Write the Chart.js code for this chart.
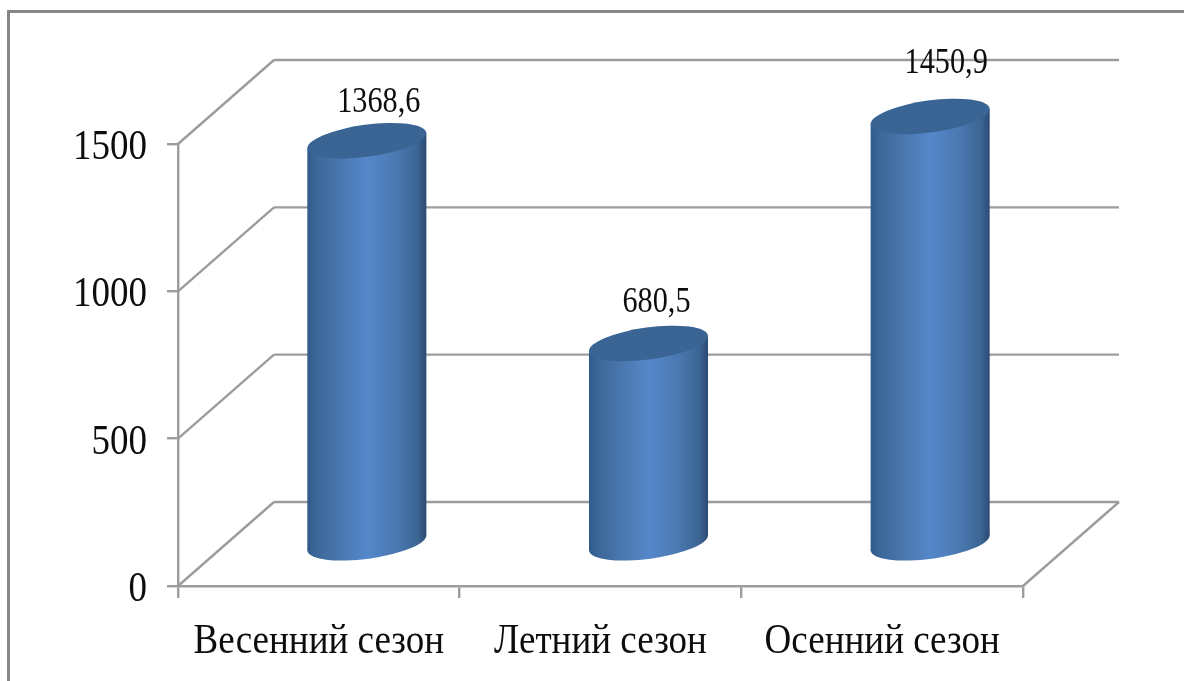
<!DOCTYPE html>
<html lang="ru">
<head>
<meta charset="utf-8">
<title>Сезоны</title>
<script src="https://cdn.jsdelivr.net/npm/chart.js@4"></script>
<style>
    html, body { margin: 0; padding: 0; background: #fff; }
    #chartBox { position: relative; width: 1184px; height: 681px; overflow: hidden; }
    #frameTop { position: absolute; left: 7px; top: 10px; right: 0; height: 3px; background: #868686; }
    #frameLeft { position: absolute; left: 7px; top: 10px; bottom: 0; width: 3px; background: #868686; }
</style>
</head>
<body>
<div id="chartBox">
    <canvas id="seasonChart" width="1184" height="681"></canvas>
    <div id="frameTop"></div>
    <div id="frameLeft"></div>
</div>
<script>
const categories = ["Весенний сезон", "Летний сезон", "Осенний сезон"];
const seasonValues = [1368.6, 680.5, 1450.9];

// Nudges for the value labels (the source chart places them by hand)
const labelShiftX = [12, 8, 16];
const labelLift = [41, 43, 55];

const serif = "'Liberation Serif', 'Times New Roman', serif";
const gridColor = "#9c9c9c";
const depthX = 96;
const depthY = 84;

function squeezedText(ctx, text, x, y, size, align, squeeze) {
    ctx.save();
    ctx.translate(x, y);
    ctx.scale(squeeze, 1);
    ctx.font = size + "px " + serif;
    ctx.fillStyle = "#0d0d0d";
    ctx.textAlign = align;
    ctx.textBaseline = "alphabetic";
    ctx.fillText(text, 0, 0);
    ctx.restore();
}

function line(ctx, x1, y1, x2, y2) {
    ctx.beginPath();
    ctx.moveTo(x1, y1);
    ctx.lineTo(x2, y2);
    ctx.stroke();
}

// Back wall, side wall and floor of the 3D box
const boxPlugin = {
    id: "box",
    beforeDatasetsDraw(chart) {
        const { ctx, scales: { x, y } } = chart;
        ctx.save();
        ctx.strokeStyle = gridColor;
        ctx.lineWidth = 2.4;
        y.ticks.forEach(tick => {
            const py = y.getPixelForValue(tick.value);
            line(ctx, x.left, py, x.left + depthX, py - depthY);
            line(ctx, x.left + depthX, py - depthY, x.right + depthX, py - depthY);
        });
        const floor = y.getPixelForValue(0);
        line(ctx, x.right, floor, x.right + depthX, floor - depthY);
        ctx.restore();
    }
};

// Each bar is drawn as a tilted cylinder standing mid-way into the box
const cylinderPlugin = {
    id: "cylinder",
    beforeDatasetDraw(chart, args) {
        const ctx = chart.ctx;
        const tilt = -7.7 * Math.PI / 180;
        chart.getDatasetMeta(args.index).data.forEach(bar => {
            const cx = bar.x + depthX / 2;
            const topY = bar.y - depthY / 2;
            const baseY = bar.base - depthY / 2;
            const halfW = bar.width / 2;
            const a = halfW * 1.008;
            const b = 16;
            const edgeY = 7.5;

            const grad = ctx.createLinearGradient(cx - halfW, 0, cx + halfW, 0);
            grad.addColorStop(0, "#2f5a8a");
            grad.addColorStop(0.06, "#3a6597");
            grad.addColorStop(0.25, "#4875ab");
            grad.addColorStop(0.5, "#5587ca");
            grad.addColorStop(0.75, "#4a78b1");
            grad.addColorStop(0.93, "#3b6492");
            grad.addColorStop(1, "#2c4a72");

            ctx.save();
            ctx.fillStyle = grad;
            ctx.beginPath();
            ctx.ellipse(cx, baseY, a, b, tilt, 0, Math.PI * 2);
            ctx.fill();
            ctx.beginPath();
            ctx.moveTo(cx - halfW, topY + edgeY);
            ctx.lineTo(cx + halfW, topY - edgeY);
            ctx.lineTo(cx + halfW, baseY - edgeY);
            ctx.lineTo(cx - halfW, baseY + edgeY);
            ctx.closePath();
            ctx.fill();

            ctx.fillStyle = "#3a6494";
            ctx.beginPath();
            ctx.ellipse(cx, topY, a, b, tilt, 0, Math.PI * 2);
            ctx.fill();
            ctx.restore();
        });
        return false;
    }
};

// Axis and value labels, slightly narrowed like the condensed serif of the source
const labelPlugin = {
    id: "labels",
    afterDraw(chart) {
        const { ctx, scales: { x, y } } = chart;
        y.ticks.forEach(tick => {
            squeezedText(ctx, String(tick.value), 147, y.getPixelForValue(tick.value) + 15, 43, "right", 0.86);
        });
        categories.forEach((name, i) => {
            squeezedText(ctx, name, x.getPixelForValue(i), 653, 42, "center", 0.882);
        });
        chart.getDatasetMeta(0).data.forEach((bar, i) => {
            const text = seasonValues[i].toFixed(1).replace(".", ",");
            const cx = bar.x + depthX / 2 + labelShiftX[i];
            const cy = bar.y - depthY / 2 - labelLift[i];
            squeezedText(ctx, text, cx, cy + 12, 36, "center", 0.84);
        });
    }
};

new Chart(document.getElementById("seasonChart").getContext("2d"), {
    type: "bar",
    data: {
        labels: categories,
        datasets: [{
            data: seasonValues,
            backgroundColor: "#5587ca",
            barPercentage: 0.4226,
            categoryPercentage: 1
        }]
    },
    plugins: [boxPlugin, cylinderPlugin, labelPlugin],
    options: {
        responsive: false,
        animation: false,
        layout: { padding: { left: 167, right: 161, top: 144, bottom: 83 } },
        plugins: { legend: { display: false }, tooltip: { enabled: false } },
        scales: {
            x: {
                ticks: { display: false },
                grid: { drawOnChartArea: false, color: gridColor, lineWidth: 2.4, tickLength: 12 },
                border: { color: gridColor, width: 2.4 }
            },
            y: {
                min: 0,
                max: 1500,
                ticks: { display: false, stepSize: 500 },
                grid: { drawOnChartArea: false, color: gridColor, lineWidth: 2.4, tickLength: 11 },
                border: { color: gridColor, width: 2.4 }
            }
        }
    }
});
</script>
</body>
</html>
